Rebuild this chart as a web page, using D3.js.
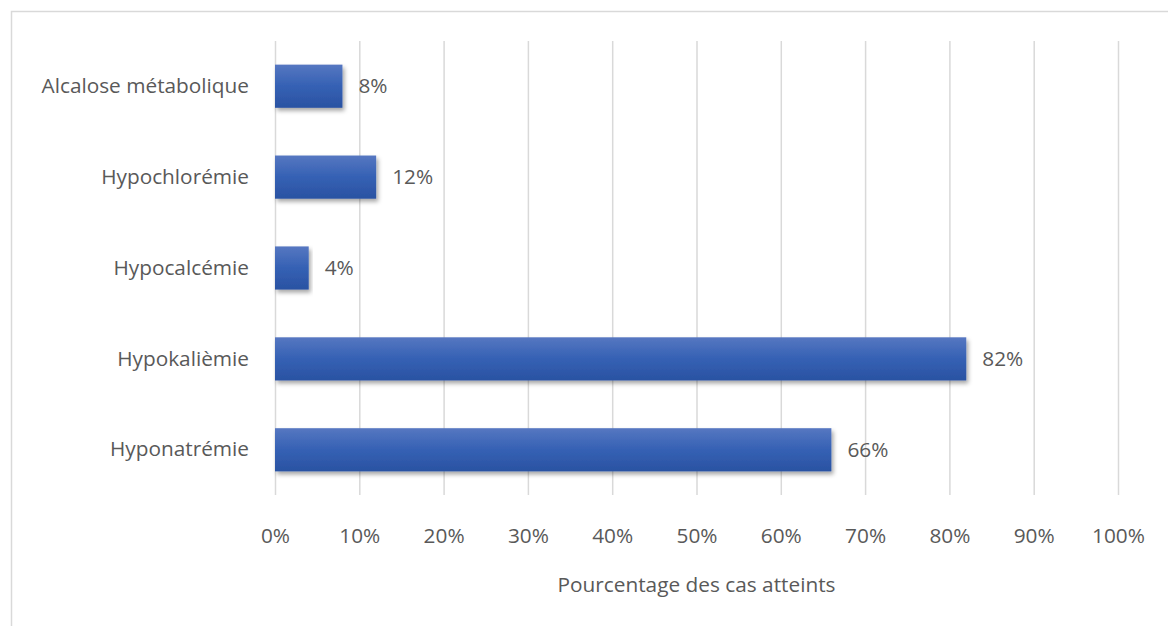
<!DOCTYPE html>
<html>
<head>
<meta charset="utf-8">
<script src="https://cdn.jsdelivr.net/npm/d3@7/dist/d3.min.js"></script>
<style>
  html, body { margin: 0; padding: 0; background: #fff; }
  svg { display: block; font-family: "Open Sans", Lato, sans-serif; }
</style>
</head>
<body>
<svg id="chart" width="1168" height="626"></svg>
<script>
// Electrolyte disorders: share of affected cases
const categories = ["Alcalose métabolique", "Hypochlorémie", "Hypocalcémie", "Hypokalièmie", "Hyponatrémie"];
const values = [8, 12, 4, 82, 66];
const tickValues = [0, 10, 20, 30, 40, 50, 60, 70, 80, 90, 100];
const axisTitle = "Pourcentage des cas atteints";

const svg = d3.select("#chart");
const W = 1168, H = 626;
const plot = { left: 275, right: 1118, top: 41, bottom: 495 };
const textColor = "#595959";
const fontSize = 20.8;
const fontFamily = "'Open Sans', Lato, sans-serif";

// Outer chart frame (top and left edges visible)
svg.append("path")
  .attr("d", `M11.5,${H} V11.5 H${W}`)
  .attr("fill", "none")
  .attr("stroke", "#d9d9d9")
  .attr("stroke-width", 1.5);

const x = d3.scaleLinear().domain([0, 100]).range([plot.left, plot.right]);
const y = d3.scaleBand().domain(categories).range([plot.top, plot.bottom]).paddingInner(0.525).paddingOuter(0.26);

const defs = svg.append("defs");
const grad = defs.append("linearGradient").attr("id", "barFill")
  .attr("x1", 0).attr("y1", 0).attr("x2", 0).attr("y2", 1);
grad.append("stop").attr("offset", "0%").attr("stop-color", "#5677c1");
grad.append("stop").attr("offset", "50%").attr("stop-color", "#3561b4");
grad.append("stop").attr("offset", "100%").attr("stop-color", "#2a52a2");

const shadow = defs.append("filter").attr("id", "barShadow")
  .attr("x", "-5%").attr("y", "-20%").attr("width", "115%").attr("height", "160%");
shadow.append("feDropShadow").attr("dx", 2).attr("dy", 3).attr("stdDeviation", 2.2)
  .attr("flood-color", "#000").attr("flood-opacity", 0.35);

// Vertical gridlines and percentage tick labels
const xAxis = d3.axisBottom(x).tickValues(tickValues).tickSize(plot.bottom - plot.top)
  .tickFormat(d => d + "%");
const gx = svg.append("g").attr("transform", `translate(0,${plot.top})`).call(xAxis);
gx.select(".domain").remove();
gx.selectAll(".tick line").attr("stroke", "#d9d9d9").attr("stroke-width", 1.5);
gx.selectAll(".tick text")
  .attr("y", plot.bottom - plot.top + 41)
  .attr("dy", "0.35em")
  .attr("fill", textColor)
  .attr("font-size", fontSize)
  .attr("font-family", fontFamily);

// Category labels
const yAxis = d3.axisLeft(y).tickSize(0).tickPadding(26);
const gy = svg.append("g").attr("transform", `translate(${plot.left},0)`).call(yAxis);
gy.select(".domain").remove();
gy.selectAll(".tick text")
  .attr("fill", textColor)
  .attr("font-size", fontSize)
  .attr("font-family", fontFamily);

// Bars
svg.append("g").selectAll("rect").data(categories).join("rect")
  .attr("x", x(0))
  .attr("y", d => y(d))
  .attr("width", (d, i) => x(values[i]) - x(0))
  .attr("height", y.bandwidth())
  .attr("fill", "url(#barFill)")
  .attr("filter", "url(#barShadow)");

// Value labels
svg.append("g").selectAll("text").data(categories).join("text")
  .attr("x", (d, i) => x(values[i]) + 16)
  .attr("y", d => y(d) + y.bandwidth() / 2)
  .attr("dy", "0.35em")
  .attr("fill", textColor)
  .attr("font-size", fontSize)
  .text((d, i) => values[i] + "%");

// Axis title
svg.append("text")
  .attr("x", (plot.left + plot.right) / 2)
  .attr("y", 585)
  .attr("dy", "0.35em")
  .attr("text-anchor", "middle")
  .attr("fill", textColor)
  .attr("font-size", fontSize)
  .text(axisTitle);
</script>
</body>
</html>
